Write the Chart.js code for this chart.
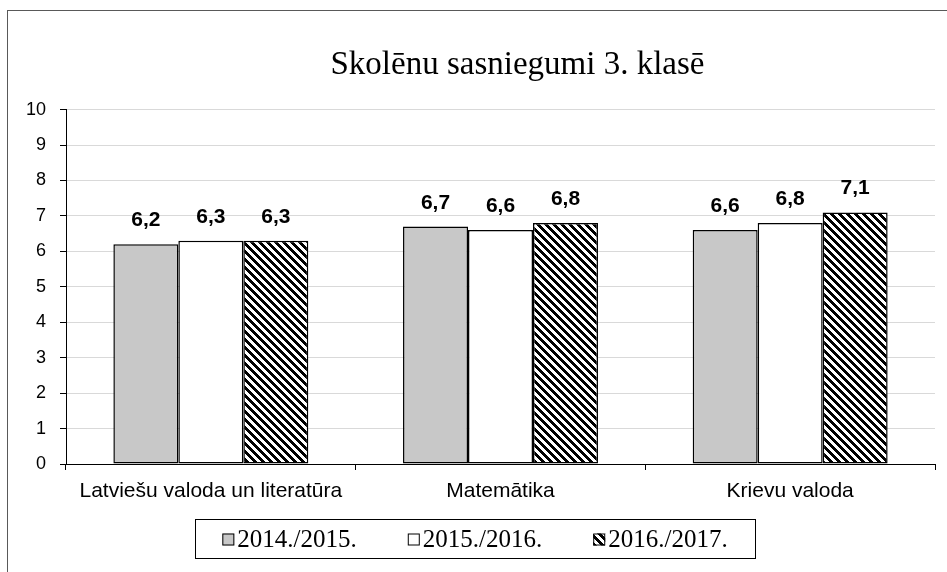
<!DOCTYPE html>
<html><head><meta charset="utf-8">
<script src="https://cdn.jsdelivr.net/npm/chart.js@4"></script>
<style>
html,body{margin:0;padding:0;width:947px;height:572px;overflow:hidden;background:#fff}
#frame{position:absolute;left:7px;top:10px;width:1200px;height:800px;border:1px solid #595959;box-sizing:border-box}
#wrap{position:absolute;left:0;top:0;width:947px;height:572px}
</style></head><body>
<div id="frame"></div>
<div id="wrap"><canvas id="c" width="947" height="572"></canvas></div>
<script>
const categories = ['Latviešu valoda un literatūra', 'Matemātika', 'Krievu valoda'];
const seriesNames = ['2014./2015.', '2015./2016.', '2016./2017.'];
const values2014 = [6.2, 6.7, 6.6];
const values2015 = [6.3, 6.6, 6.8];
const values2016 = [6.3, 6.8, 7.1];
const yTicks = [0, 1, 2, 3, 4, 5, 6, 7, 8, 9, 10];
const chartTitle = 'Skolēnu sasniegumi 3. klasē';

function makePattern() {
  const p = document.createElement('canvas');
  p.width = 8; p.height = 8;
  const g = p.getContext('2d');
  g.fillStyle = '#fff'; g.fillRect(0, 0, 8, 8);
  g.fillStyle = '#000';
  for (let y = 0; y < 8; y++) for (let x = 0; x < 8; x++) {
    if (((x - y) % 8 + 8) % 8 < 4) g.fillRect(x, y, 1, 1);
  }
  return document.getElementById('c').getContext('2d').createPattern(p, 'repeat');
}
const hatch = makePattern();
const fills = ['#c8c8c8', '#ffffff', hatch];
const seriesValues = [values2014, values2015, values2016];

const dataLabels = {
  id: 'dataLabels',
  afterDatasetsDraw(chart) {
    const ctx = chart.ctx;
    ctx.save();
    ctx.font = 'bold 21px "Liberation Sans", Arial, sans-serif';
    ctx.fillStyle = '#000';
    ctx.textAlign = 'center';
    ctx.textBaseline = 'alphabetic';
    chart.data.datasets.forEach((ds, i) => {
      chart.getDatasetMeta(i).data.forEach((bar, j) => {
        ctx.fillText(ds.data[j].toFixed(1).replace('.', ','), bar.x, bar.y - 18);
      });
    });
    ctx.restore();
  }
};

const boxLegend = {
  id: 'boxLegend',
  afterDraw(chart) {
    const ctx = chart.ctx;
    ctx.save();
    const boxL = 195, boxT = 519, boxR = 755, boxB = 558;
    ctx.strokeStyle = '#000'; ctx.lineWidth = 1;
    ctx.strokeRect(boxL + 0.5, boxT + 0.5, boxR - boxL, boxB - boxT);
    ctx.font = '25px "Liberation Serif", "Times New Roman", serif';
    ctx.textBaseline = 'middle';
    ctx.textAlign = 'left';
    const sw = 12, gap = 3, spacing = 51;
    const widths = seriesNames.map(n => sw + gap + ctx.measureText(n).width);
    const total = widths.reduce((a, b) => a + b, 0) + spacing * (widths.length - 1);
    let x = (boxL + boxR) / 2 - total / 2;
    const cy = (boxT + boxB) / 2 + 1;
    seriesNames.forEach((n, i) => {
      ctx.fillStyle = fills[i];
      ctx.fillRect(x, cy - 6, sw, sw);
      ctx.strokeStyle = '#000';
      ctx.strokeRect(x + 0.5, cy - 5.5, sw - 1, sw - 1);
      ctx.fillStyle = '#000';
      ctx.fillText(n, x + sw + gap, cy + 1);
      x += widths[i] + spacing;
    });
    ctx.restore();
  }
};

const shiftTitle = {
  id: 'shiftTitle',
  afterLayout(chart) {
    const t = chart.titleBlock;
    if (t) { t.left += 50; t.right += 50; }
  }
};

new Chart(document.getElementById('c'), {
  type: 'bar',
  data: {
    labels: categories,
    datasets: seriesNames.map((name, i) => ({
      label: name,
      data: seriesValues[i],
      backgroundColor: fills[i],
      borderColor: '#000',
      borderWidth: 1.5,
      borderSkipped: false,
      categoryPercentage: 0.673,
      barPercentage: 1
    }))
  },
  options: {
    responsive: false,
    animation: false,
    layout: { padding: { left: 0, right: 12, top: 0, bottom: 68 } },
    plugins: {
      legend: { display: false },
      tooltip: { enabled: false },
      title: {
        display: true,
        text: chartTitle,
        color: '#000',
        font: { family: '"Liberation Serif", "Times New Roman", serif', size: 33, weight: 'normal' },
        padding: { top: 46, bottom: 24 }
      }
    },
    scales: {
      x: {
        grid: { display: true, drawOnChartArea: false, offset: true, tickLength: 6, color: '#000' },
        border: { display: true, color: '#000', width: 1 },
        ticks: { color: '#000', font: { family: '"Liberation Sans", Arial, sans-serif', size: 21 }, padding: 9, maxRotation: 0 },
        afterFit(s) { s.height = 40; }
      },
      y: {
        min: 0, max: 10,
        afterBuildTicks(s) { s.ticks = yTicks.map(v => ({ value: v })); },
        grid: { color: '#d9d9d9', tickColor: '#000', tickLength: 6, lineWidth: 1 },
        border: { display: true, color: '#000', width: 1 },
        ticks: { color: '#000', font: { family: '"Liberation Sans", Arial, sans-serif', size: 18 }, padding: 14 },
        afterFit(s) { s.width = 66; }
      }
    }
  },
  plugins: [dataLabels, boxLegend, shiftTitle]
});
</script>
</body></html>
